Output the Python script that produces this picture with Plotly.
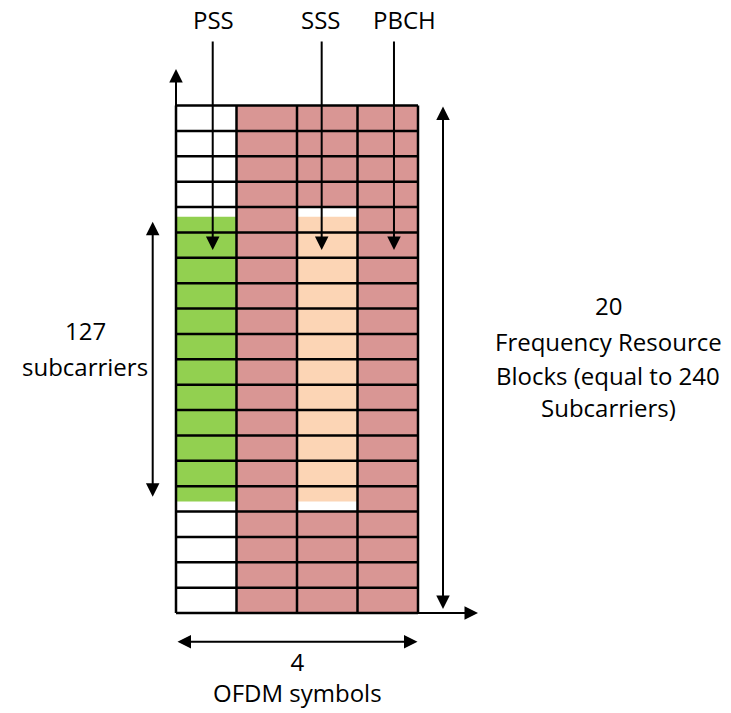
import plotly.graph_objects as go

# ---- data (diagram units: x = OFDM symbol, y = resource block) ----
n_symbols = 4
n_rbs = 20
pss_symbol = 0
sss_symbol = 2
pbch_full_symbols = [1, 3]
pss_rb_span = [4.39, 15.62]      # PSS occupies 127 subcarriers
sss_rb_span = [4.39, 15.62]
pbch_partial_spans = [[0, 4], [16, 20]]   # PBCH in SSS symbol, edges

top_labels = ["PSS", "SSS", "PBCH"]
top_label_x = [0.617, 2.392, 3.785]
top_arrow_x = [0.607, 2.408, 3.603]

right_lines = ["20", "Frequency Resource", "Blocks (equal to 240", "Subcarriers)"]
left_lines = ["127", "subcarriers"]
bottom_lines = ["4", "OFDM symbols"]

PINK = "#D99694"
GREEN = "#92D050"
PEACH = "#FCD5B5"

# ---- canvas mapping (screen pixels) ----
W, H = 731, 713
x0_px, col_px = 176, 60.5
y0_px, row_px = 613, 25.375
def X(px): return (px - x0_px) / col_px
def Y(py): return (y0_px - py) / row_px

fig = go.Figure()

# PBCH full columns
fig.add_trace(go.Bar(x=[s + 0.5 for s in pbch_full_symbols], y=[n_rbs] * len(pbch_full_symbols),
                     base=[0] * len(pbch_full_symbols), width=1, marker=dict(color=PINK, line=dict(width=0)),
                     hoverinfo="skip"))
# PBCH partial in SSS symbol
fig.add_trace(go.Bar(x=[sss_symbol + 0.5] * len(pbch_partial_spans),
                     y=[b - a for a, b in pbch_partial_spans], base=[a for a, b in pbch_partial_spans],
                     width=1, marker=dict(color=PINK, line=dict(width=0)), hoverinfo="skip"))
# PSS
fig.add_trace(go.Bar(x=[pss_symbol + 0.5], y=[pss_rb_span[1] - pss_rb_span[0]], base=[pss_rb_span[0]],
                     width=1, marker=dict(color=GREEN, line=dict(width=0)), hoverinfo="skip"))
# SSS
fig.add_trace(go.Bar(x=[sss_symbol + 0.5], y=[sss_rb_span[1] - sss_rb_span[0]], base=[sss_rb_span[0]],
                     width=1, marker=dict(color=PEACH, line=dict(width=0)), hoverinfo="skip"))

# grid lines
gx, gy = [], []
for k in range(n_rbs + 1):
    gx += [0, n_symbols, None]
    gy += [k, k, None]
for s in range(n_symbols + 1):
    gx += [s, s, None]
    gy += [0, n_rbs, None]
fig.add_trace(go.Scatter(x=gx, y=gy, mode="lines", line=dict(color="black", width=2.5),
                         hoverinfo="skip"))

FONT = dict(family="Open Sans", size=24, color="black")
ann = []

def arrow(xh, yh, xt, yt, both=False):
    d = dict(x=xh, y=yh, ax=xt, ay=yt, xref="x", yref="y", axref="x", ayref="y",
             showarrow=True, arrowhead=2, arrowsize=1.35, arrowwidth=2, arrowcolor="black", text="")
    if both:
        d.update(arrowside="end+start", startarrowhead=2, startarrowsize=1.35)
    ann.append(d)

# axes arrows
arrow(0, Y(69), 0, 0)
arrow(X(478), 0, 0, 0)
# right double arrow
arrow(X(443), Y(106.5), X(443), Y(610.5), both=True)
# left double arrow
arrow(X(152.7), Y(221.7), X(152.7), Y(498.3), both=True)
# bottom double arrow
arrow(X(417.5), Y(641.7), X(176), Y(641.7), both=True)
# top arrows
for xa in top_arrow_x:
    arrow(xa, Y(250), xa, Y(40))

def text(s, x, y):
    ann.append(dict(x=x, y=y, xref="x", yref="y", text=s, showarrow=False, font=FONT,
                    xanchor="center", yanchor="middle"))

for s, xl in zip(top_labels, top_label_x):
    text(s, xl, Y(19))
for s, py in zip(right_lines, [305, 341, 375, 407]):
    text(s, X(608), Y(py))
for s, py in zip(left_lines, [330, 366]):
    text(s, X(85), Y(py))
text("<br>".join(bottom_lines), X(297), Y(677))

fig.update_layout(
    width=W, height=H, margin=dict(l=0, r=0, t=0, b=0),
    paper_bgcolor="white", plot_bgcolor="white", showlegend=False, barmode="overlay",
    xaxis=dict(range=[X(0), X(W)], visible=False, fixedrange=True),
    yaxis=dict(range=[Y(H), Y(0)], visible=False, fixedrange=True),
    annotations=ann,
)
fig.write_html("out.html", config={"displayModeBar": False},
               post_script="document.body.style.margin='0';")
